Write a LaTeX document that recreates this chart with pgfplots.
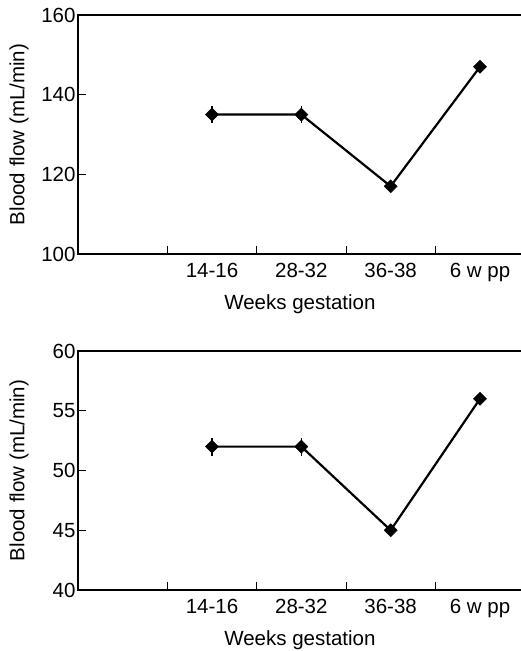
\documentclass[border=0pt]{standalone}
\usepackage{pgfplots}
\pgfplotsset{compat=1.18}
\usepackage{fontspec}
\setmainfont{Liberation Sans}
\begin{document}
\begin{tikzpicture}
\useasboundingbox (-78pt,-61pt) rectangle (442pt,590pt);
\pgfplotsset{myax/.style={
  scale only axis, width=452pt, height=239pt,
  xmin=-0.5, xmax=4.56,
  xtick={0.5,1.5,2.5,3.5}, xticklabels={},
  extra x ticks={1,2,3,4},
  extra x tick labels={14-16,28-32,36-38,6 w pp},
  extra x tick style={major tick length=0pt},
  tick pos=left,
  tick align=inside, major tick length=8pt,
  tick style={line width=0.7pt, black},
  axis line style={line width=1.6pt},
  font=\fontsize{20.5}{24}\selectfont,
  ticklabel style={font=\fontsize{20.5}{24}\selectfont},
  xticklabel style={yshift=-6pt},
  yticklabel style={xshift=1pt},
  /pgf/number format/assume math mode=true,
  xlabel={Weeks gestation}, ylabel={Blood flow (mL/min)},
  xlabel style={at={(axis description cs:0.491,-0.2113)}, anchor=center},
  ylabel style={at={(axis description cs:-0.1305,0.5)}, anchor=center},
  clip=false,
}}
\begin{axis}[myax, at={(0pt,336pt)}, anchor=south west,
  ymin=100, ymax=160, ytick={100,120,140,160}]
\addplot[black, line width=2.2pt, mark=square*, mark size=4.6pt,
  mark options={rotate=45, line width=0.5pt},
  error bars/.cd, y dir=both, y explicit, error mark=none,
  error bar style={line width=1.2pt}]
  coordinates {(1,135) +- (0,2.2) (2,135) +- (0,2.2) (3,117) +- (0,0) (4,147) +- (0,0)};
\end{axis}
\begin{axis}[myax, at={(0pt,0pt)}, anchor=south west,
  ymin=40, ymax=60, ytick={40,45,50,55,60}]
\addplot[black, line width=2.2pt, mark=square*, mark size=4.6pt,
  mark options={rotate=45, line width=0.5pt},
  error bars/.cd, y dir=both, y explicit, error mark=none,
  error bar style={line width=1.2pt}]
  coordinates {(1,52) +- (0,0.75) (2,52) +- (0,0.75) (3,45) +- (0,0) (4,56) +- (0,0)};
\end{axis}
\end{tikzpicture}
\end{document}
